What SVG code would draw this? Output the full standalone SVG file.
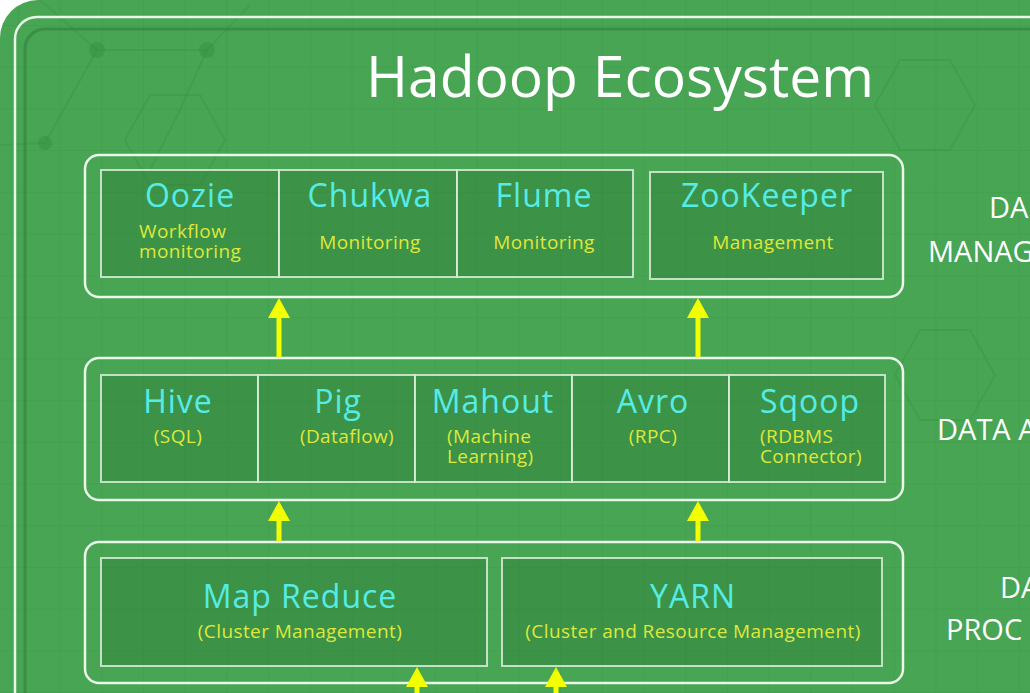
<svg xmlns="http://www.w3.org/2000/svg" width="1030" height="693" viewBox="0 0 1030 693">
<defs>
<style>
.grp{fill:none;stroke:#eaf6ea;stroke-width:2.5}
.box{fill:#2f7d3a;fill-opacity:0.45;stroke:#d8eed8;stroke-opacity:0.85;stroke-width:2}
.name{font-family:"Open Sans","Noto Sans",sans-serif;fill:#55ece6;font-size:32px;letter-spacing:1px;text-anchor:middle}
.sub{font-family:"Open Sans","Noto Sans",sans-serif;fill:#dfe83a;font-size:19px;letter-spacing:0.4px;text-anchor:middle}
.subl{font-family:"Open Sans","Noto Sans",sans-serif;fill:#dfe83a;font-size:19px;letter-spacing:0.4px}
.side{font-family:"Open Sans","Noto Sans",sans-serif;fill:#ffffff;font-size:29px}
.arrow{fill:#f2ff00}
.deco{stroke:#2e8a3c;stroke-opacity:0.22;stroke-width:2;fill:none}
</style>
<pattern id="grid" x="18" y="25" width="41.7" height="41.7" patternUnits="userSpaceOnUse">
<path d="M0 0H41.7M0 0V41.7" stroke="#2f8a3d" stroke-opacity="0.28" stroke-width="1.5" fill="none"/>
</pattern>
</defs>
<rect x="0" y="0" width="1030" height="693" fill="#ffffff"/>
<rect x="0" y="0" width="1080" height="740" rx="38" fill="#47a553"/>
<rect x="0" y="0" width="1080" height="740" rx="38" fill="url(#grid)"/>
<g class="deco">
<polyline points="0,145 45,143 97,50 207,50 250,5"/>
<polyline points="97,50 40,0"/>
<polyline points="207,50 180,110 150,170"/>
<polygon points="150,95 200,95 225,140 200,185 150,185 125,140"/>
<polygon points="900,60 950,60 975,105 950,150 900,150 875,105"/>
<polygon points="920,330 970,330 995,375 970,420 920,420 895,375"/>
</g>
<g fill="#2e8a3c" fill-opacity="0.35">
<circle cx="97" cy="50" r="8"/>
<circle cx="207" cy="50" r="8"/>
<circle cx="45" cy="143" r="7"/>
</g>
<rect x="25" y="29" width="1060" height="700" rx="20" fill="none" stroke="#2c7a37" stroke-opacity="0.5" stroke-width="3"/>
<rect x="15" y="17" width="1070" height="720" rx="22" fill="none" stroke="#e8f5e8" stroke-width="2.5"/>
<text x="620" y="97" font-family="Open Sans, Noto Sans, sans-serif" font-size="57" fill="#ffffff" text-anchor="middle">Hadoop Ecosystem</text>

<g id="group-management">
<rect class="grp" x="85" y="155" width="818" height="142" rx="14"/>
</g>
<g id="group-access">
<rect class="grp" x="85" y="358" width="818" height="142" rx="14"/>
</g>
<g id="group-processing">
<rect class="grp" x="85" y="542" width="818" height="141" rx="14"/>
</g>

<g id="oozie">
<rect class="box" x="101" y="170" width="178" height="107"/>
<text class="name" x="190" y="207">Oozie</text>
<text class="subl" x="139" y="238">Workflow</text>
<text class="subl" x="139" y="258">monitoring</text>
</g>
<g id="chukwa">
<rect class="box" x="279" y="170" width="178" height="107"/>
<text class="name" x="370" y="207">Chukwa</text>
<text class="sub" x="370" y="249">Monitoring</text>
</g>
<g id="flume">
<rect class="box" x="457" y="170" width="176" height="107"/>
<text class="name" x="544" y="207">Flume</text>
<text class="sub" x="544" y="249">Monitoring</text>
</g>
<g id="zookeeper">
<rect class="box" x="650" y="172" width="233" height="107"/>
<text class="name" x="767" y="207">ZooKeeper</text>
<text class="sub" x="773" y="249">Management</text>
</g>

<g id="hive">
<rect class="box" x="101" y="375" width="157" height="107"/>
<text class="name" x="178" y="413">Hive</text>
<text class="sub" x="178" y="443">(SQL)</text>
</g>
<g id="pig">
<rect class="box" x="258" y="375" width="157" height="107"/>
<text class="name" x="338" y="413">Pig</text>
<text class="sub" x="347" y="443">(Dataflow)</text>
</g>
<g id="mahout">
<rect class="box" x="415" y="375" width="157" height="107"/>
<text class="name" x="493" y="413">Mahout</text>
<text class="subl" x="447" y="443">(Machine</text>
<text class="subl" x="447" y="463">Learning)</text>
</g>
<g id="avro">
<rect class="box" x="572" y="375" width="157" height="107"/>
<text class="name" x="653" y="413">Avro</text>
<text class="sub" x="653" y="443">(RPC)</text>
</g>
<g id="sqoop">
<rect class="box" x="729" y="375" width="156" height="107"/>
<text class="name" x="810" y="413">Sqoop</text>
<text class="subl" x="760" y="443">(RDBMS</text>
<text class="subl" x="760" y="463">Connector)</text>
</g>

<g id="mapreduce">
<rect class="box" x="101" y="558" width="386" height="108"/>
<text class="name" x="300" y="608">Map Reduce</text>
<text class="sub" x="300" y="638">(Cluster Management)</text>
</g>
<g id="yarn">
<rect class="box" x="502" y="558" width="380" height="108"/>
<text class="name" x="693" y="608">YARN</text>
<text class="sub" x="693" y="638">(Cluster and Resource Management)</text>
</g>

<g id="connectors">
<path class="arrow" d="M279 298 L290 318 L281.5 318 L281.5 358 L276.5 358 L276.5 318 L268 318 Z"/>
<path class="arrow" d="M698 298 L709 318 L700.5 318 L700.5 358 L695.5 358 L695.5 318 L687 318 Z"/>
<path class="arrow" d="M279 501 L290 521 L281.5 521 L281.5 542 L276.5 542 L276.5 521 L268 521 Z"/>
<path class="arrow" d="M698 501 L709 521 L700.5 521 L700.5 542 L695.5 542 L695.5 521 L687 521 Z"/>
<path class="arrow" d="M417 667 L428 687 L419.5 687 L419.5 693 L414.5 693 L414.5 687 L406 687 Z"/>
<path class="arrow" d="M556 667 L567 687 L558.5 687 L558.5 693 L553.5 693 L553.5 687 L545 687 Z"/>
</g>

<g id="labels">
<text class="side" x="989" y="218">DA</text>
<text class="side" x="928" y="262">MANAG</text>
<text class="side" x="937" y="440">DATA A</text>
<text class="side" x="1000" y="598">DA</text>
<text class="side" x="946" y="640">PROC</text>
</g>
</svg>
